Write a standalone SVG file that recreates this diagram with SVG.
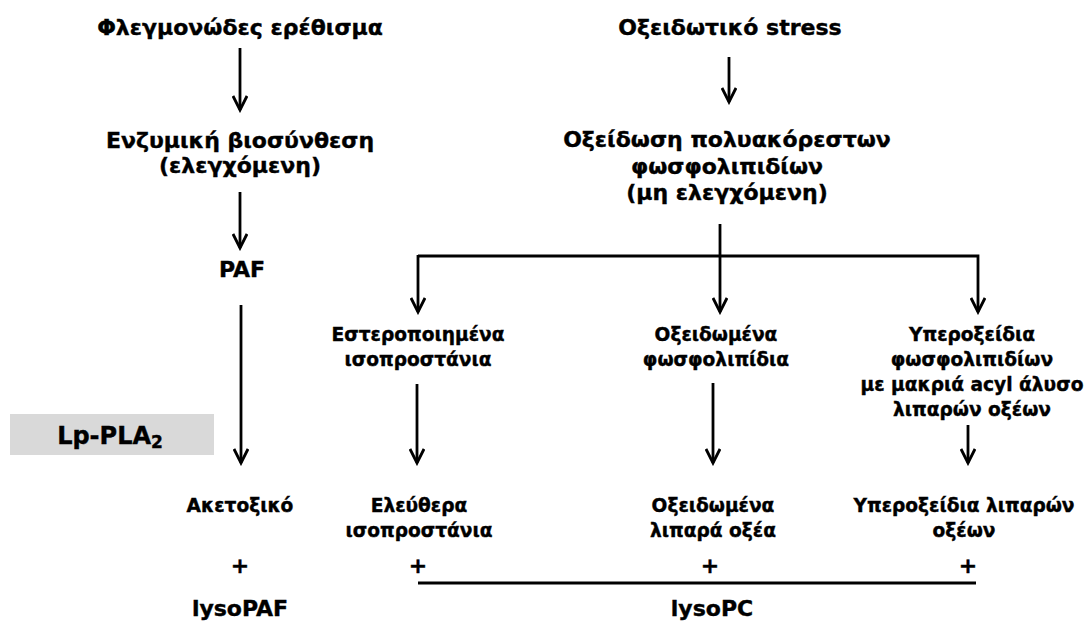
<svg xmlns="http://www.w3.org/2000/svg" width="1086" height="622" viewBox="0 0 1086 622">
<defs>
<style>
text{font-family:"DejaVu Sans","Verdana",sans-serif;font-weight:bold;fill:#000;stroke:#000;stroke-width:0.4;text-anchor:middle}
.h{font-size:22px}
.s{font-size:18.6px}
.ln{stroke:#000;stroke-width:2.8;fill:none}
</style>
<marker id="ah" viewBox="0 0 20 16" refX="17" refY="8" markerWidth="20" markerHeight="16" markerUnits="userSpaceOnUse" orient="auto">
<path d="M3,1 L17,8 L3,15" fill="none" stroke="#000" stroke-width="2.8"/>
</marker>
</defs>
<rect width="1086" height="622" fill="#fff"/>
<g id="n_flegm"><text class="h" x="240" y="35">Φλεγμονώδες ερέθισμα</text></g>
<g id="n_enz"><text class="h" x="240" y="148">Ενζυμική βιοσύνθεση</text><text class="h" x="240" y="173">(ελεγχόμενη)</text></g>
<g id="n_paf"><text class="h" x="242" y="277">PAF</text></g>
<g id="n_lp"><rect x="10" y="414" width="204" height="41" fill="#d9d9d9"/><text x="110" y="444" style="font-size:24px">Lp-PLA<tspan style="font-size:17px" dy="4">2</tspan></text></g>
<g id="n_aceto"><text class="s" x="240" y="512">Ακετοξικό</text></g>
<g id="n_plus1"><text class="h" x="240" y="573">+</text></g>
<g id="n_lysopaf"><text class="h" x="240" y="616">lysoPAF</text></g>
<g id="n_ox"><text class="h" x="730" y="35">Οξειδωτικό stress</text></g>
<g id="n_oxid"><text class="h" x="727" y="147">Οξείδωση πολυακόρεστων</text><text class="h" x="727" y="174">φωσφολιπιδίων</text><text class="h" x="727" y="200">(μη ελεγχόμενη)</text></g>
<g id="n_ester"><text class="s" x="418" y="341">Εστεροποιημένα</text><text class="s" x="418" y="366">ισοπροστάνια</text></g>
<g id="n_oxph"><text class="s" x="716" y="341">Οξειδωμένα</text><text class="s" x="716" y="366">φωσφολιπίδια</text></g>
<g id="n_hyper"><text class="s" x="972" y="341">Υπεροξείδια</text><text class="s" x="972" y="366">φωσφολιπιδίων</text><text class="s" x="972" y="391">με μακριά acyl άλυσο</text><text class="s" x="972" y="416">λιπαρών οξέων</text></g>
<g id="n_free"><text class="s" x="419" y="512">Ελεύθερα</text><text class="s" x="419" y="537">ισοπροστάνια</text></g>
<g id="n_oxfa"><text class="s" x="713" y="512">Οξειδωμένα</text><text class="s" x="713" y="537">λιπαρά οξέα</text></g>
<g id="n_hyfa"><text class="s" x="964" y="512">Υπεροξείδια λιπαρών</text><text class="s" x="964" y="537">οξέων</text></g>
<g id="n_plus2"><text class="h" x="418" y="573">+</text></g>
<g id="n_plus3"><text class="h" x="710" y="573">+</text></g>
<g id="n_plus4"><text class="h" x="968" y="573">+</text></g>
<g id="n_lysopc"><text class="h" x="712" y="616">lysoPC</text></g>
<g id="connectors">
<line class="ln" x1="240" y1="48" x2="240" y2="110" marker-end="url(#ah)"/>
<line class="ln" x1="240" y1="192" x2="240" y2="248" marker-end="url(#ah)"/>
<line class="ln" x1="241" y1="305" x2="241" y2="463" marker-end="url(#ah)"/>
<line class="ln" x1="729" y1="57" x2="729" y2="102" marker-end="url(#ah)"/>
<polyline class="ln" points="418,256 978,256 978,312" marker-end="url(#ah)"/>
<line class="ln" x1="418" y1="255" x2="418" y2="312" marker-end="url(#ah)"/>
<line class="ln" x1="720" y1="224" x2="720" y2="312" marker-end="url(#ah)"/>
<line class="ln" x1="417" y1="384" x2="417" y2="463" marker-end="url(#ah)"/>
<line class="ln" x1="713" y1="383" x2="713" y2="463" marker-end="url(#ah)"/>
<line class="ln" x1="968" y1="425" x2="968" y2="463" marker-end="url(#ah)"/>
<line class="ln" x1="418" y1="583" x2="976" y2="583"/>
</g>
</svg>
